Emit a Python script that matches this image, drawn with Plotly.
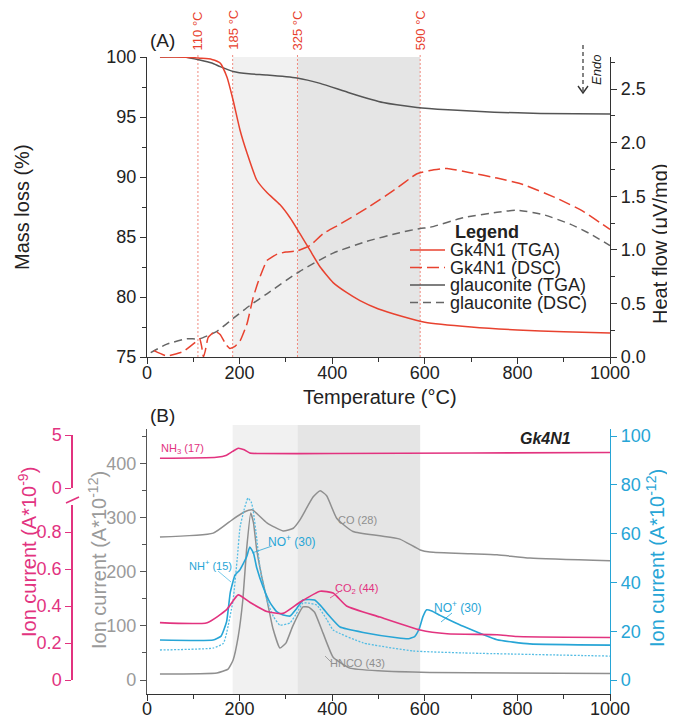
import plotly.graph_objects as go

# The page adds an 8px body margin, so the figure is 8px smaller and all
# layout pixel positions are measured from the window's top-left corner.
OFF = 8
W, H = 675 - OFF, 719 - OFF
FONT = "Liberation Sans, Arial, sans-serif"
RED = "#e8422f"
RED_LIGHT = "#f08a7e"
DGRAY = "#555555"
MGRAY = "#666666"
PINK = "#e2337f"
BLUE = "#27a5d6"
LBLUE = "#55bde4"
CGRAY = "#8f8f8f"
AXGRAY = "#9a9a9a"

# ---------------- Panel A data ----------------
t_tga_gk = [28, 60, 100, 114, 140, 158, 173, 186, 201, 216, 237, 259, 287, 309, 330, 352, 374, 402, 430, 460, 500, 550, 600, 700, 800, 900, 1000]
m_tga_gk = [100, 100, 99.95, 99.9, 99.8, 99.5, 98.3, 96.4, 93.9, 92.0, 89.75, 88.7, 87.7, 86.6, 85.3, 83.9, 82.5, 81.2, 80.4, 79.7, 79.0, 78.4, 77.9, 77.5, 77.25, 77.1, 77.0]

t_tga_gl = [28, 80, 114, 140, 158, 186, 220, 259, 324, 374, 438, 510, 583, 650, 750, 850, 1000]
m_tga_gl = [100, 100, 99.75, 99.5, 99.2, 98.8, 98.6, 98.5, 98.25, 97.8, 97.0, 96.2, 95.8, 95.6, 95.4, 95.3, 95.25]

t_dsc_gk = [15, 43, 78, 108, 114, 118, 122, 126, 132, 147, 158, 170, 179, 190, 201, 216, 229, 240, 259, 281, 300, 324, 352, 380, 417, 475, 531, 583, 611, 648, 698, 756, 812, 886, 942, 1000]
h_dsc_gk = [0.06, 0.01, 0.05, 0.15, 0.17, 0.10, 0.0, 0.06, 0.18, 0.24, 0.21, 0.12, 0.08, 0.10, 0.15, 0.31, 0.55, 0.70, 0.90, 0.96, 0.98, 0.99, 1.04, 1.15, 1.24, 1.39, 1.55, 1.71, 1.74, 1.76, 1.72, 1.67, 1.61, 1.48, 1.36, 1.19]

t_dsc_gl = [8, 43, 86, 114, 151, 186, 222, 259, 330, 402, 475, 546, 590, 611, 683, 756, 799, 855, 914, 957, 1000]
h_dsc_gl = [0.04, 0.12, 0.17, 0.17, 0.24, 0.36, 0.48, 0.59, 0.80, 0.97, 1.08, 1.16, 1.20, 1.21, 1.30, 1.35, 1.37, 1.33, 1.24, 1.15, 1.04]

event_temps = [110, 185, 325, 590]
event_labels = ["110 °C", "185 °C", "325 °C", "590 °C"]

# ---------------- Panel B data ----------------
t_co = [28, 143, 186, 210, 227, 259, 294, 316, 330, 359, 374, 388, 410, 445, 503, 546, 590, 611, 700, 756, 827, 1000]
v_co = [264, 271, 297, 310, 314, 290, 275, 280, 295, 338, 349, 340, 298, 274, 266, 260, 240, 236, 233, 231, 225, 220]

t_hnco = [28, 151, 175, 186, 197, 207, 215, 224, 230, 237, 248, 259, 272, 287, 300, 315, 337, 350, 362, 380, 402, 438, 500, 611, 1000]
v_hnco = [11, 13, 20, 37, 80, 148, 240, 308, 290, 240, 190, 148, 95, 59, 68, 100, 135, 134, 125, 87, 42, 22, 17, 14, 12]

t_co2 = [28, 130, 172, 197, 222, 259, 294, 330, 374, 402, 431, 503, 590, 648, 756, 799, 1000]
v_co2 = [0.31, 0.31, 0.38, 0.46, 0.42, 0.37, 0.36, 0.42, 0.48, 0.47, 0.40, 0.34, 0.27, 0.25, 0.245, 0.235, 0.23]

t_nh3 = [28, 150, 172, 185, 197, 210, 222, 240, 400, 700, 1000]
v_nh3 = [2.8, 2.9, 3.1, 3.45, 3.75, 3.6, 3.3, 3.25, 3.25, 3.3, 3.35]

t_no = [28, 143, 160, 172, 180, 190, 200, 215, 222, 230, 237, 251, 266, 280, 294, 309, 322, 337, 350, 362, 375, 395, 417, 467, 540, 565, 578, 588, 596, 604, 615, 633, 660, 683, 756, 827, 1000]
v_no = [16.4, 16.4, 18, 24, 36, 43, 45, 50.4, 54.5, 52, 46, 38, 31.6, 28, 26.6, 26.2, 29, 32.8, 33, 32.8, 30.5, 26, 21.7, 19.5, 17.3, 16.9, 17.8, 21, 26, 28.8, 28.3, 26.5, 24, 22, 16.5, 14.8, 14.3]

t_nh = [28, 143, 165, 172, 186, 195, 201, 210, 218, 225, 229, 237, 244, 259, 273, 287, 309, 322, 337, 350, 367, 389, 402, 467, 575, 683, 1000]
v_nh = [12.3, 13.1, 15, 19.3, 32.8, 50, 62.7, 70, 74.6, 73, 70, 58, 46, 32.8, 26, 22.5, 23.4, 27, 31.6, 31.5, 30.7, 24.6, 20.5, 15.2, 11.9, 11.1, 9.8]


def X(px):
    return (px - OFF) / W


def Y(py):
    return 1 - (py - OFF) / H


fig = go.Figure()

def line(x, y, color, xa, ya, width=1.5, dash="solid", smooth=0.5):
    fig.add_trace(go.Scatter(x=x, y=y, mode="lines", xaxis=xa, yaxis=ya,
                             line=dict(color=color, width=width, dash=dash,
                                       shape="spline", smoothing=smooth),
                             hoverinfo="skip", showlegend=False))

# Panel A
line(t_dsc_gl, h_dsc_gl, MGRAY, "x", "y2", dash="8px,5px")
line(t_dsc_gk, h_dsc_gk, RED, "x", "y2", dash="12px,5px", smooth=0.4)
line(t_tga_gl, m_tga_gl, DGRAY, "x", "y")
line(t_tga_gk, m_tga_gk, RED, "x", "y")

# Panel B
line(t_co, v_co, CGRAY, "x2", "y3")
line(t_hnco, v_hnco, CGRAY, "x2", "y3", smooth=0.4)
line(t_nh, v_nh, LBLUE, "x2", "y4", width=1.3, dash="2px,1.5px", smooth=0.4)
line(t_no, v_no, BLUE, "x2", "y4", width=1.6, smooth=0.4)
line(t_co2, v_co2, PINK, "x2", "y5", width=1.6)
line(t_nh3, v_nh3, PINK, "x2", "y6", width=1.6)

tf = lambda c="#222": dict(size=18, family=FONT, color=c)

def axis(**kw):
    d = dict(showgrid=False, zeroline=False, showline=True, linewidth=1.3,
             ticks="outside", ticklen=6, tickwidth=1.2, automargin=False,
             linecolor="#333", tickcolor="#333", tickfont=tf())
    d.update(kw)
    return d

xdom = [X(147), X(610)]
A_dom = [Y(357), Y(57)]
B_dom = [Y(694), Y(429)]

fig.update_layout(
    width=W, height=H, margin=dict(l=0, r=0, t=0, b=0),
    paper_bgcolor="white", plot_bgcolor="rgba(0,0,0,0)", showlegend=False,
    font=dict(family=FONT),
    xaxis=axis(domain=xdom, range=[0, 1000], anchor="y", dtick=200, ticklabelstandoff=-7,
               minor=dict(ticks="outside", ticklen=4, dtick=100, tickcolor="#333")),
    yaxis=axis(domain=A_dom, range=[75, 100], anchor="x", dtick=5,
               minor=dict(ticks="outside", ticklen=4, dtick=2.5, tickcolor="#333")),
    yaxis2=axis(overlaying="y", side="right", anchor="x", range=[0, 2.8], dtick=0.5,
                tickformat=".1f",
                minor=dict(ticks="outside", ticklen=4, dtick=0.25, tickcolor="#333")),
    xaxis2=axis(domain=xdom, range=[0, 1000], anchor="y3", dtick=200, ticklabelstandoff=-8,
                minor=dict(ticks="outside", ticklen=4, dtick=100, tickcolor="#333")),
    yaxis3=axis(domain=B_dom, range=[-25.8, 463.1], anchor="x2",
                tickvals=[0, 100, 200, 300, 400], linecolor="#555", tickcolor="#555",
                tickfont=tf(AXGRAY),
                minor=dict(ticks="outside", ticklen=4, tickvals=[50, 150, 250, 350, 450], tickcolor="#555")),
    yaxis4=axis(overlaying="y3", side="right", anchor="x2", range=[-5.74, 102.9],
                tickvals=[0, 20, 40, 60, 80, 100], linecolor=BLUE, tickcolor=BLUE,
                tickfont=tf(BLUE)),
    yaxis5=axis(domain=[Y(680), Y(505)], range=[0, 0.946], anchor="free", position=X(72),
                tickvals=[0, 0.2, 0.4, 0.6, 0.8], ticktext=["0", "0.2", "0.4", "0.6", "0.8"],
                linecolor=PINK, tickcolor=PINK, tickfont=tf(PINK), linewidth=1.5),
    yaxis6=axis(domain=[Y(488), Y(435)], range=[0, 5], anchor="free", position=X(72),
                tickvals=[0, 5], linecolor=PINK, tickcolor=PINK, tickfont=tf(PINK), linewidth=1.5),
)

shapes = []
# shading
for (y0, y1) in [(357, 57), (694, 425)]:
    xr = "x" if y0 == 357 else "x2"
    shapes.append(dict(type="rect", xref=xr, yref="paper", x0=185, x1=325, y0=Y(y0), y1=Y(y1),
                       fillcolor="#f1f1f1", line=dict(width=0), layer="below"))
    shapes.append(dict(type="rect", xref=xr, yref="paper", x0=325, x1=590, y0=Y(y0), y1=Y(y1),
                       fillcolor="#e5e5e5", line=dict(width=0), layer="below"))
# event lines
for t in event_temps:
    shapes.append(dict(type="line", xref="x", yref="paper", x0=t, x1=t, y0=Y(357), y1=Y(53),
                       line=dict(color=RED_LIGHT, width=1, dash="2px,2px"), layer="below"))
# Endo arrow
shapes.append(dict(type="line", xref="paper", yref="paper", x0=X(583), x1=X(583), y0=Y(45), y1=Y(92),
                   line=dict(color="#333", width=1.2, dash="4px,3px")))
shapes.append(dict(type="path", xref="paper", yref="paper",
                   path=f"M {X(578)} {Y(86)} L {X(583)} {Y(93)} L {X(588)} {Y(86)}",
                   line=dict(color="#333", width=1.4)))
# pink axis break
shapes.append(dict(type="line", xref="paper", yref="paper", x0=X(66), x1=X(79), y0=Y(503), y1=Y(497),
                   line=dict(color=PINK, width=1.6)))
# legend samples
leg_rows = [250, 267.5, 285, 302.5]
leg_styles = [(RED, "solid"), (RED, "12px,5px"), (DGRAY, "solid"), (MGRAY, "8px,5px")]
leg_text = ["Gk4N1 (TGA)", "Gk4N1 (DSC)", "glauconite (TGA)", "glauconite (DSC)"]
for yy, (c, d) in zip(leg_rows, leg_styles):
    shapes.append(dict(type="line", xref="paper", yref="paper", x0=X(410), x1=X(445), y0=Y(yy), y1=Y(yy),
                       line=dict(color=c, width=1.5, dash=d)))
# leader lines in panel B
leaders = [((272, 546), (252, 553), BLUE), ((218, 571), (231, 582), LBLUE),
           ((339, 592), (330, 598), PINK), ((452, 613), (441, 622), BLUE),
           ((331, 662), (325, 656), CGRAY)]
for (a, b, c) in leaders:
    shapes.append(dict(type="line", xref="paper", yref="paper", x0=X(a[0]), y0=Y(a[1]), x1=X(b[0]), y1=Y(b[1]),
                       line=dict(color=c, width=0.8)))

annotations = []

def txt(s, px, py, size=18, color="#222", angle=0, xanchor="center", yanchor="middle", **kw):
    annotations.append(dict(text=s, x=X(px), y=Y(py), xref="paper", yref="paper", showarrow=False,
                            font=dict(size=size, color=color, family=FONT), textangle=angle,
                            xanchor=xanchor, yanchor=yanchor, **kw))

# event labels
for t, lab in zip(event_temps, event_labels):
    annotations.append(dict(text=lab, x=t, xref="x", y=Y(52), yref="paper", showarrow=False,
                            font=dict(size=13, color=RED, family=FONT), textangle=-90,
                            xanchor="center", yanchor="bottom"))

txt("(A)", 162, 40, size=19)
txt("(B)", 162, 415, size=19)
txt("Mass loss (%)", 22, 207, size=20, angle=-90)
txt("Heat flow (μV/mg)", 660, 232, size=20, angle=-90, yanchor="middle", yshift=-12)
txt("Temperature (°C)", 380, 397, size=20)
txt("<i>Endo</i>", 597, 70, size=13, angle=-90)
txt("<b>Legend</b>", 487, 232, size=18)
for yy, s in zip(leg_rows, leg_text):
    txt(s, 448, yy, size=18, xanchor="left")

txt("Ion current (A*10<sup>-9</sup>)", 27, 552, size=20, color=PINK, angle=-90)
txt("Ion current (A*10<sup>-12</sup>)", 97, 560, size=20, color=AXGRAY, angle=-90)
txt("Ion current (A*10<sup>-12</sup>)", 655, 558, size=20, color=BLUE, angle=-90)
txt("<b><i>Gk4N1</i></b>", 545, 438, size=16)
txt("NH<sub>3</sub> (17)", 182, 449, size=11, color=PINK)
txt("CO (28)", 357, 520, size=11, color=CGRAY)
txt("NO<sup>+</sup> (30)", 292, 541, size=12, color=BLUE)
txt("NH<sup>+</sup> (15)", 210, 565, size=11, color=BLUE)
txt("CO<sub>2</sub> (44)", 356, 589, size=11, color=PINK)
txt("NO<sup>+</sup> (30)", 458, 607, size=12, color=BLUE)
txt("HNCO (43)", 358, 663, size=11, color=CGRAY)

fig.update_layout(shapes=shapes, annotations=annotations)
fig.write_html("out.html")
